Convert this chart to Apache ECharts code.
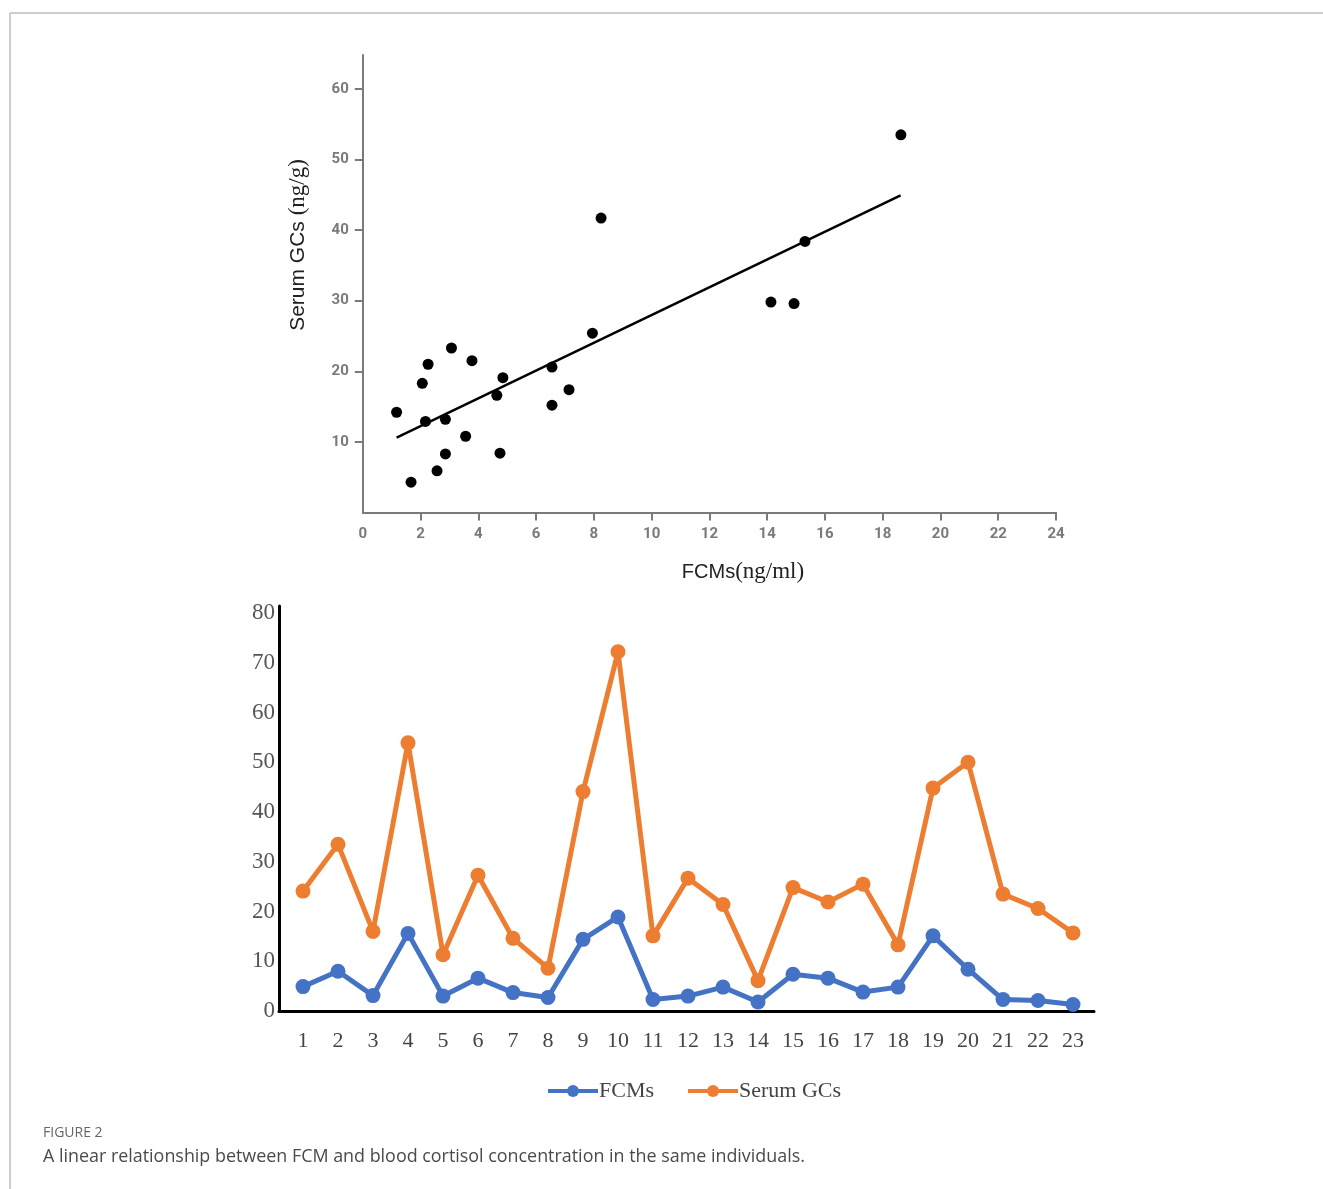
<!DOCTYPE html>
<html>
<head>
<meta charset="utf-8">
<script src="https://cdn.jsdelivr.net/npm/echarts@6/dist/echarts.min.js"></script>
<style>
  html, body { margin: 0; padding: 0; background: #fff; }
  #main { width: 1323px; height: 1189px; }
</style>
</head>
<body>
<div id="main"></div>
<script>
// scatter: FCMs (ng/ml) vs serum GCs (ng/g)
const scatterX = [1.17, 1.67, 2.06, 2.17, 2.26, 2.57, 2.86, 2.86, 3.07, 3.56, 3.78, 4.64, 4.75, 4.85, 6.55, 6.55, 7.14, 7.95, 8.25, 14.13, 14.93, 15.31, 18.63]
const scatterY = [14.2, 4.3, 18.3, 12.9, 21.0, 5.9, 8.3, 13.2, 23.3, 10.8, 21.5, 16.6, 8.4, 19.1, 20.6, 15.2, 17.4, 25.4, 41.7, 29.8, 29.6, 38.4, 53.5]
// fitted line end points
const fitX = [1.17, 18.62]
const fitY = [10.6, 44.9]
const scatterXTicks = [0, 2, 4, 6, 8, 10, 12, 14, 16, 18, 20, 22, 24]
const scatterYTicks = [10, 20, 30, 40, 50, 60]

// line chart per individual
const individuals = [1, 2, 3, 4, 5, 6, 7, 8, 9, 10, 11, 12, 13, 14, 15, 16, 17, 18, 19, 20, 21, 22, 23]
const fcms = [4.9, 8.0, 3.1, 15.6, 3.0, 6.6, 3.7, 2.7, 14.4, 18.9, 2.3, 3.0, 4.8, 1.8, 7.4, 6.6, 3.8, 4.8, 15.1, 8.4, 2.3, 2.1, 1.3]
const serumGCs = [24.1, 33.5, 16.0, 53.9, 11.3, 27.3, 14.6, 8.6, 44.1, 72.2, 15.1, 26.7, 21.4, 6.1, 24.8, 21.9, 25.5, 13.3, 44.8, 50.0, 23.5, 20.6, 15.7]
const lineYTicks = [0, 10, 20, 30, 40, 50, 60, 70, 80]

const tickFont = "Roboto, sans-serif"
const serif = "'Liberation Serif', 'DejaVu Serif', serif"
const sans = "'Liberation Sans', Arial, sans-serif"

let chart = echarts.init(document.getElementById('main'))

let option = {
  animation: false,
  grid: [
    { left: 362.8, top: 55, width: 693.2, height: 457.5 },
    { left: 279, top: 606, width: 815, height: 405 }
  ],
  xAxis: [
    {
      gridIndex: 0,
      type: 'value',
      min: 0,
      max: 24,
      splitLine: { show: false },
      axisLine: { lineStyle: { color: '#7a7a7a', width: 2 } },
      axisTick: { show: true, length: 8, customValues: scatterXTicks.slice(1), lineStyle: { color: '#7a7a7a', width: 2 } },
      axisLabel: {
        customValues: scatterXTicks,
        margin: 14,
        color: '#7a7a7a',
        fontSize: 15,
        fontWeight: 'bold',
        fontFamily: tickFont
      }
    },
    {
      gridIndex: 1,
      type: 'value',
      min: 0.314,
      max: 23.6,
      splitLine: { show: false },
      axisLine: { lineStyle: { color: '#000', width: 3 } },
      axisTick: { show: false },
      axisLabel: {
        customValues: individuals,
        margin: 19,
        color: '#444',
        fontSize: 22,
        fontFamily: serif
      }
    }
  ],
  yAxis: [
    {
      gridIndex: 0,
      type: 'value',
      min: 0,
      max: 64.8,
      splitLine: { show: false },
      axisLine: { show: true, lineStyle: { color: '#7a7a7a', width: 2 } },
      axisTick: { show: true, length: 8, customValues: scatterYTicks, lineStyle: { color: '#7a7a7a', width: 2 } },
      axisLabel: {
        customValues: scatterYTicks,
        margin: 14,
        color: '#7a7a7a',
        fontSize: 15,
        fontWeight: 'bold',
        fontFamily: tickFont
      }
    },
    {
      gridIndex: 1,
      type: 'value',
      min: 0,
      max: 81.4,
      splitLine: { show: false },
      axisLine: { show: true, lineStyle: { color: '#000', width: 3 } },
      axisTick: { show: false },
      axisLabel: {
        customValues: lineYTicks,
        margin: 4,
        color: '#555',
        fontSize: 23,
        fontFamily: serif
      }
    }
  ],
  legend: {
    left: 541,
    top: 1075,
    itemWidth: 50,
    itemHeight: 15,
    itemGap: 32,
    lineStyle: { width: 4 },
    textStyle: { color: '#444', fontSize: 22, fontFamily: serif, padding: [0, 0, 0, -4] },
    data: ['FCMs', 'Serum GCs']
  },
  series: [
    {
      type: 'scatter',
      xAxisIndex: 0,
      yAxisIndex: 0,
      symbolSize: 11,
      itemStyle: { color: '#000', opacity: 1 },
      data: scatterX.map((x, i) => [x, scatterY[i]])
    },
    {
      type: 'line',
      xAxisIndex: 0,
      yAxisIndex: 0,
      showSymbol: false,
      lineStyle: { color: '#000', width: 2.5 },
      data: fitX.map((x, i) => [x, fitY[i]])
    },
    {
      name: 'FCMs',
      type: 'line',
      xAxisIndex: 1,
      yAxisIndex: 1,
      symbol: 'circle',
      symbolSize: 15,
      color: '#4472c4',
      lineStyle: { width: 5 },
      data: individuals.map((n, i) => [n, fcms[i]])
    },
    {
      name: 'Serum GCs',
      type: 'line',
      xAxisIndex: 1,
      yAxisIndex: 1,
      symbol: 'circle',
      symbolSize: 15,
      color: '#ed7d31',
      lineStyle: { width: 5 },
      data: individuals.map((n, i) => [n, serumGCs[i]])
    }
  ],
  graphic: [
    // frame
    { type: 'line', shape: { x1: 10, y1: 13, x2: 1323, y2: 13 }, style: { stroke: '#bdbdbd', lineWidth: 1.5 } },
    { type: 'line', shape: { x1: 10, y1: 13, x2: 10, y2: 1189 }, style: { stroke: '#bdbdbd', lineWidth: 1.5 } },
    // axis names of the scatter plot
    {
      type: 'text',
      x: 298,
      y: 245,
      rotation: Math.PI / 2,
      style: {
        text: '{a|Serum GCs }{b|(ng/g)}',
        align: 'center',
        verticalAlign: 'middle',
        rich: {
          a: { fontSize: 21, fontFamily: sans, fill: '#222' },
          b: { fontSize: 23, fontFamily: serif, fill: '#222' }
        }
      }
    },
    {
      type: 'text',
      x: 743,
      y: 572,
      style: {
        text: '{a|FCMs}{b|(ng/ml)}',
        align: 'center',
        verticalAlign: 'middle',
        rich: {
          a: { fontSize: 20, fontFamily: sans, fill: '#222' },
          b: { fontSize: 23, fontFamily: serif, fill: '#222' }
        }
      }
    },
    // caption
    {
      type: 'text',
      x: 43,
      y: 1133,
      style: { text: 'FIGURE 2', fontSize: 14, fontFamily: "'Open Sans', sans-serif", fill: '#666', verticalAlign: 'middle' }
    },
    {
      type: 'text',
      x: 43,
      y: 1157,
      style: {
        text: 'A linear relationship between FCM and blood cortisol concentration in the same individuals.',
        fontSize: 17.9,
        fontFamily: "'Open Sans', sans-serif",
        fill: '#4a4a4a',
        verticalAlign: 'middle'
      }
    }
  ]
}

chart.setOption(option)
</script>
</body>
</html>
